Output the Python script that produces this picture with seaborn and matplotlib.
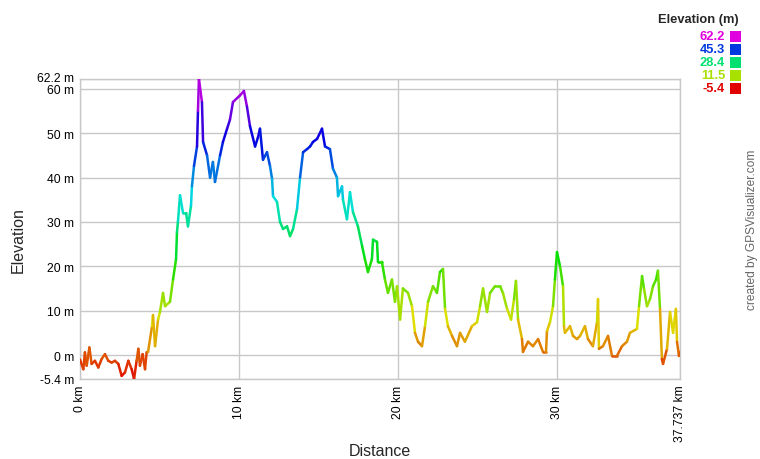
import colorsys
import matplotlib
matplotlib.use("Agg")
import matplotlib.pyplot as plt
import matplotlib.transforms as mtransforms
import numpy as np
import pandas as pd
import seaborn as sns

# ---------------- data ----------------
distance_km = [
    0.00, 0.21, 0.31, 0.42, 0.59, 0.73, 0.94, 1.15, 1.36, 1.57, 1.78, 1.99, 2.20,
    2.41, 2.62, 2.83, 3.04, 3.25, 3.40, 3.56, 3.67, 3.77, 3.94, 4.09, 4.19,
    4.28, 4.53, 4.59, 4.72, 4.91, 5.03, 5.22, 5.35, 5.66, 5.85, 6.04, 6.10, 6.16,
    6.29, 6.48, 6.67, 6.79, 6.98, 7.04, 7.17, 7.36, 7.42, 7.48, 7.67, 7.74, 7.99,
    8.18, 8.36, 8.49, 8.81, 8.99, 9.25, 9.43, 9.62, 10.06, 10.31, 10.50, 10.69,
    11.01, 11.19, 11.32, 11.51, 11.76, 11.95, 12.08, 12.14, 12.39, 12.58, 12.77,
    13.02, 13.21, 13.40, 13.65, 13.84, 14.03, 14.28, 14.47, 14.65, 14.91, 15.22,
    15.41, 15.72, 15.91, 16.16, 16.23, 16.48, 16.54, 16.79, 16.98, 17.17, 17.48,
    17.74, 17.92, 18.11, 18.36, 18.43, 18.68, 18.74, 18.99, 19.18, 19.37, 19.62,
    19.81, 19.94, 20.13, 20.31, 20.63, 20.88, 21.07, 21.26, 21.51, 21.70, 21.89,
    22.20, 22.45, 22.64, 22.83, 22.96, 23.14, 23.40, 23.71, 23.90, 24.21, 24.65,
    24.97, 25.16, 25.35, 25.60, 25.79, 26.10, 26.42, 26.60, 26.86, 27.11, 27.30,
    27.42, 27.55, 27.80, 27.86, 28.18, 28.49, 28.81, 29.12, 29.31, 29.37, 29.56,
    29.75, 29.87, 30.00, 30.19, 30.38, 30.44, 30.50, 30.82, 31.01, 31.26, 31.45,
    31.76, 31.95, 32.26, 32.52, 32.58, 32.64, 32.89, 33.21, 33.46, 33.77, 34.09,
    34.40, 34.59, 35.03, 35.16, 35.35, 35.47, 35.66, 35.85, 36.04, 36.23, 36.35,
    36.48, 36.60, 36.67, 36.92, 37.11, 37.30, 37.48, 37.55, 37.67, 37.737,
]
elevation_m = [
    -1.0, -3.2, 0.6, -2.4, 1.7, -2.0, -1.3, -2.8, -0.9, 0.2, -1.3, -1.7, -1.3,
    -2.0, -4.7, -3.9, -1.3, -3.2, -5.4, -1.3, 1.4, -2.4, 0.2, -3.2, 0.6,
    0.7, 6.5, 9.0, 2.0, 8.0, 9.7, 14.0, 11.0, 12.0, 17.0, 21.6, 27.7, 30.0,
    36.0, 32.0, 32.0, 29.0, 33.6, 38.0, 42.6, 47.0, 55.0, 62.2, 57.0, 48.0, 45.0,
    40.0, 43.5, 39.0, 45.0, 48.0, 51.0, 53.0, 57.0, 58.5, 59.5, 56.0, 51.6,
    47.0, 49.0, 51.0, 44.0, 45.7, 42.6, 39.7, 35.8, 34.5, 30.0, 28.4,
    29.0, 26.8, 28.4, 32.9, 40.0, 45.7, 46.4, 47.0, 48.0, 48.7, 51.0,
    47.0, 46.4, 42.0, 40.0, 35.8, 38.0, 35.0, 30.6, 36.7, 32.2, 29.0,
    24.6, 21.6, 18.7, 21.6, 26.0, 25.5, 21.0, 21.0, 17.0, 14.0, 17.0,
    12.0, 15.5, 8.0, 15.0, 14.0, 11.0, 5.0, 3.0, 2.0, 6.5, 12.0,
    15.5, 14.0, 18.7, 19.4, 10.4, 6.5, 4.3, 2.0, 5.0, 3.0, 6.5,
    7.4, 11.0, 15.0, 9.7, 14.0, 15.5, 15.5, 14.0, 10.4, 8.0, 12.6,
    16.7, 8.0, 3.6, 0.7, 3.0, 2.0, 3.6, 0.7, 0.7, 5.4, 7.4,
    11.0, 17.0, 23.2, 20.0, 15.5, 6.5, 5.0, 6.5, 4.3, 3.6, 4.3,
    6.5, 3.6, 2.0, 7.4, 12.6, 1.4, 2.0, 4.3, -0.2, -0.2, 2.0,
    3.0, 5.0, 5.9, 11.0, 17.8, 15.0, 11.0, 12.6, 15.5, 17.0, 19.0,
    10.4, -0.9, -2.0, 1.4, 9.7, 5.0, 10.4, 3.0, -0.2, 0.7,
]
y_ticks = [0, 10, 20, 30, 40, 50, 60]
x_ticks = [0, 10, 20, 30]
legend_values = [62.2, 45.3, 28.4, 11.5, -5.4]
ELEV_MIN, ELEV_MAX = -5.4, 62.2
DIST_MAX = 37.737

# ---------------- style ----------------
sns.set_theme(style="white")
plt.rcParams["font.family"] = ["Liberation Sans", "DejaVu Sans"]

W, H = 760, 460
fig = plt.figure(figsize=(W / 100, H / 100), dpi=100)
ax = fig.add_axes([80 / W, 1 - 380 / H, 600 / W, 300 / H])


def elev_color(v):
    frac = (v - ELEV_MIN) / (ELEV_MAX - ELEV_MIN)
    frac = min(max(frac, 0.0), 1.0)
    return colorsys.hsv_to_rgb(frac * 300 / 360, 1.0, 0.88)


# build segment table so each piece gets its own elevation colour
rows = []
palette = {}
for i in range(len(distance_km) - 1):
    rows.append({"seg": i, "Distance": distance_km[i], "Elevation": elevation_m[i]})
    rows.append({"seg": i, "Distance": distance_km[i + 1], "Elevation": elevation_m[i + 1]})
    palette[i] = elev_color((elevation_m[i] + elevation_m[i + 1]) / 2)
df = pd.DataFrame(rows)

sns.lineplot(
    data=df, x="Distance", y="Elevation", hue="seg", palette=palette,
    estimator=None, sort=False, legend=False, linewidth=1.8,
    solid_capstyle="round", ax=ax, zorder=3,
)

grid_c = "#c8c8c8"
ax.set_xlim(0, DIST_MAX)
ax.set_ylim(ELEV_MIN, ELEV_MAX)
yt = [ELEV_MIN] + y_ticks + [ELEV_MAX]
ax.set_yticks(yt)
ax.set_yticklabels([f"{v:g} m" for v in yt], fontsize=8.7, color="#000000")
xt = x_ticks + [DIST_MAX]
ax.set_xticks(xt)
ax.set_xticklabels([f"{v:g} km" for v in xt], fontsize=8.7, rotation=90,
                   va="top", ha="center", color="#000000")
ax.tick_params(axis="both", length=0, pad=4)
ax.grid(True, color=grid_c, linewidth=1.0)
for s in ax.spines.values():
    s.set_color(grid_c)
    s.set_linewidth(1.0)
ax.set_axisbelow(True)

# nudge the limit labels slightly apart from their neighbours (as in the reference)
ylabels = ax.get_yticklabels()
ylabels[-1].set_transform(ylabels[-1].get_transform() +
                          mtransforms.ScaledTranslation(0, 3 / 100, fig.dpi_scale_trans))
ylabels[0].set_transform(ylabels[0].get_transform() +
                         mtransforms.ScaledTranslation(0, 1 / 100, fig.dpi_scale_trans))

ax.set_xlabel("")
ax.set_ylabel("")
fig.text(380 / W, 1 - 452 / H, "Distance", fontsize=11.5, ha="center", va="center")
fig.text(18 / W, 1 - 240 / H, "Elevation", fontsize=11.5, ha="center", va="center",
         rotation=90)

# legend
fig.text(739 / W, 1 - 20 / H, "Elevation (m)", fontsize=9.3, fontweight="bold",
         ha="right", va="center")
for k, v in enumerate(legend_values):
    yc = 37.0 + k * 13.0
    col = elev_color(v)
    fig.text(725 / W, 1 - yc / H, f"{v:g}", fontsize=9.3, fontweight="bold",
             color=col, ha="right", va="center")
    fig.patches.append(plt.Rectangle((730 / W, 1 - (yc + 5.5) / H), 11 / W, 11 / H,
                                     transform=fig.transFigure, facecolor=col,
                                     edgecolor="none"))

fig.text(752 / W, 1 - 230 / H, "created by GPSVisualizer.com", fontsize=8.6,
         color="#666666", rotation=90, ha="center", va="center")

fig.savefig("out.png", dpi=100)
